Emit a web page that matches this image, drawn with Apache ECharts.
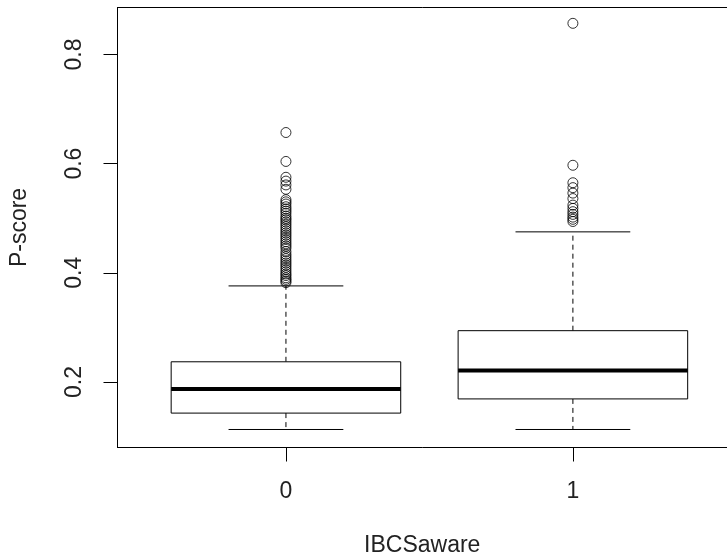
<!DOCTYPE html>
<html>
<head>
<meta charset="utf-8">
<script src="https://cdn.jsdelivr.net/npm/echarts@6/dist/echarts.min.js"></script>
<style>
  html, body { margin: 0; padding: 0; background: #fff; }
  #chart { width: 727px; height: 559px; }
</style>
</head>
<body>
<div id="chart"></div>
<script>
// values
const categories = ['0', '1'];
const lowerWhisker = [0.113, 0.113];
const q1 = [0.143, 0.169];
const median = [0.187, 0.221];
const q3 = [0.237, 0.294];
const upperWhisker = [0.376, 0.475];

const outliers0 = [
  0.657, 0.604, 0.575, 0.568, 0.561, 0.553,
  0.534, 0.530, 0.526, 0.521, 0.517, 0.513, 0.509, 0.504, 0.500,
  0.497, 0.493, 0.489, 0.485, 0.481, 0.477, 0.473, 0.469, 0.465,
  0.461, 0.457, 0.453, 0.449, 0.445, 0.439, 0.434, 0.430, 0.426,
  0.422, 0.418, 0.414, 0.410, 0.406, 0.402, 0.398, 0.395, 0.391,
  0.388, 0.385, 0.382
];
const outliers1 = [
  0.857, 0.597, 0.565, 0.556, 0.546, 0.536, 0.524, 0.518,
  0.512, 0.507, 0.502, 0.498, 0.494
];
const yTicks = [0.2, 0.4, 0.6, 0.8];

const boxData = categories.map((c, i) => [i + 1, lowerWhisker[i], q1[i], median[i], q3[i], upperWhisker[i]]);
const outlierData = outliers0.map(v => [1, v]).concat(outliers1.map(v => [2, v]));

const chart = echarts.init(document.getElementById('chart'));
const textStyle = { fontFamily: 'Liberation Sans, Arial, sans-serif', fontSize: 23, color: '#222' };
const frameLine = { show: true, lineStyle: { color: '#000', width: 1 } };

function renderBox(params, api) {
  const x = api.value(0);
  const half = 0.4, staple = 0.2;
  const p = (xx, yy) => api.coord([xx, yy]);
  const lo = api.value(1), a = api.value(2), m = api.value(3), b = api.value(4), hi = api.value(5);
  const thin = { stroke: '#000', lineWidth: 1, fill: null };
  const dashed = { stroke: '#000', lineWidth: 1, lineDash: [5, 4] };
  const tl = p(x - half, b), br = p(x + half, a);
  const line = (p1, p2, style) => ({ type: 'line', shape: { x1: p1[0], y1: p1[1], x2: p2[0], y2: p2[1] }, style });
  return {
    type: 'group',
    children: [
      line(p(x, b), p(x, hi), dashed),
      line(p(x, a), p(x, lo), dashed),
      line(p(x - staple, hi), p(x + staple, hi), thin),
      line(p(x - staple, lo), p(x + staple, lo), thin),
      { type: 'rect', shape: { x: tl[0], y: tl[1], width: br[0] - tl[0], height: br[1] - tl[1] },
        style: { stroke: '#000', lineWidth: 1, fill: '#fff' } },
      line(p(x - half, m), p(x + half, m), { stroke: '#000', lineWidth: 4 })
    ]
  };
}

chart.setOption({
  animation: false,
  grid: { left: 117.5, right: 0, top: 7.5, bottom: 111.5, outerBoundsMode: 'none', containLabel: false },
  xAxis: [{
    type: 'value', min: 0.413, max: 2.537,
    name: 'IBCSaware', nameLocation: 'middle', nameGap: 87,
    nameTextStyle: textStyle,
    axisLine: frameLine,
    splitLine: { show: false },
    axisTick: { show: true, length: 14, customValues: [1, 2], lineStyle: { color: '#000' } },
    axisLabel: { customValues: [1, 2], margin: 33, formatter: v => categories[Math.round(v) - 1], ...textStyle }
  }, {
    type: 'value', position: 'top', min: 0.413, max: 2.537,
    axisLine: frameLine, axisTick: { show: false }, axisLabel: { show: false }, splitLine: { show: false }
  }],
  yAxis: {
    type: 'value', min: 0.08, max: 0.886,
    name: 'P-score', nameLocation: 'middle', nameGap: 86,
    nameTextStyle: textStyle,
    axisLine: frameLine,
    splitLine: { show: false },
    axisTick: { show: true, length: 14, customValues: yTicks, lineStyle: { color: '#000' } },
    axisLabel: { customValues: yTicks, rotate: 90, margin: 31, formatter: v => v.toFixed(1), ...textStyle }
  },
  series: [
    { type: 'custom', renderItem: renderBox, data: boxData, encode: { x: 0, y: [1, 2, 3, 4, 5] }, z: 2 },
    { type: 'scatter', data: outlierData, symbol: 'circle', symbolSize: 10,
      itemStyle: { color: 'rgba(255,255,255,0)', borderColor: '#000', borderWidth: 1 }, z: 3 }
  ]
});
</script>
</body>
</html>
